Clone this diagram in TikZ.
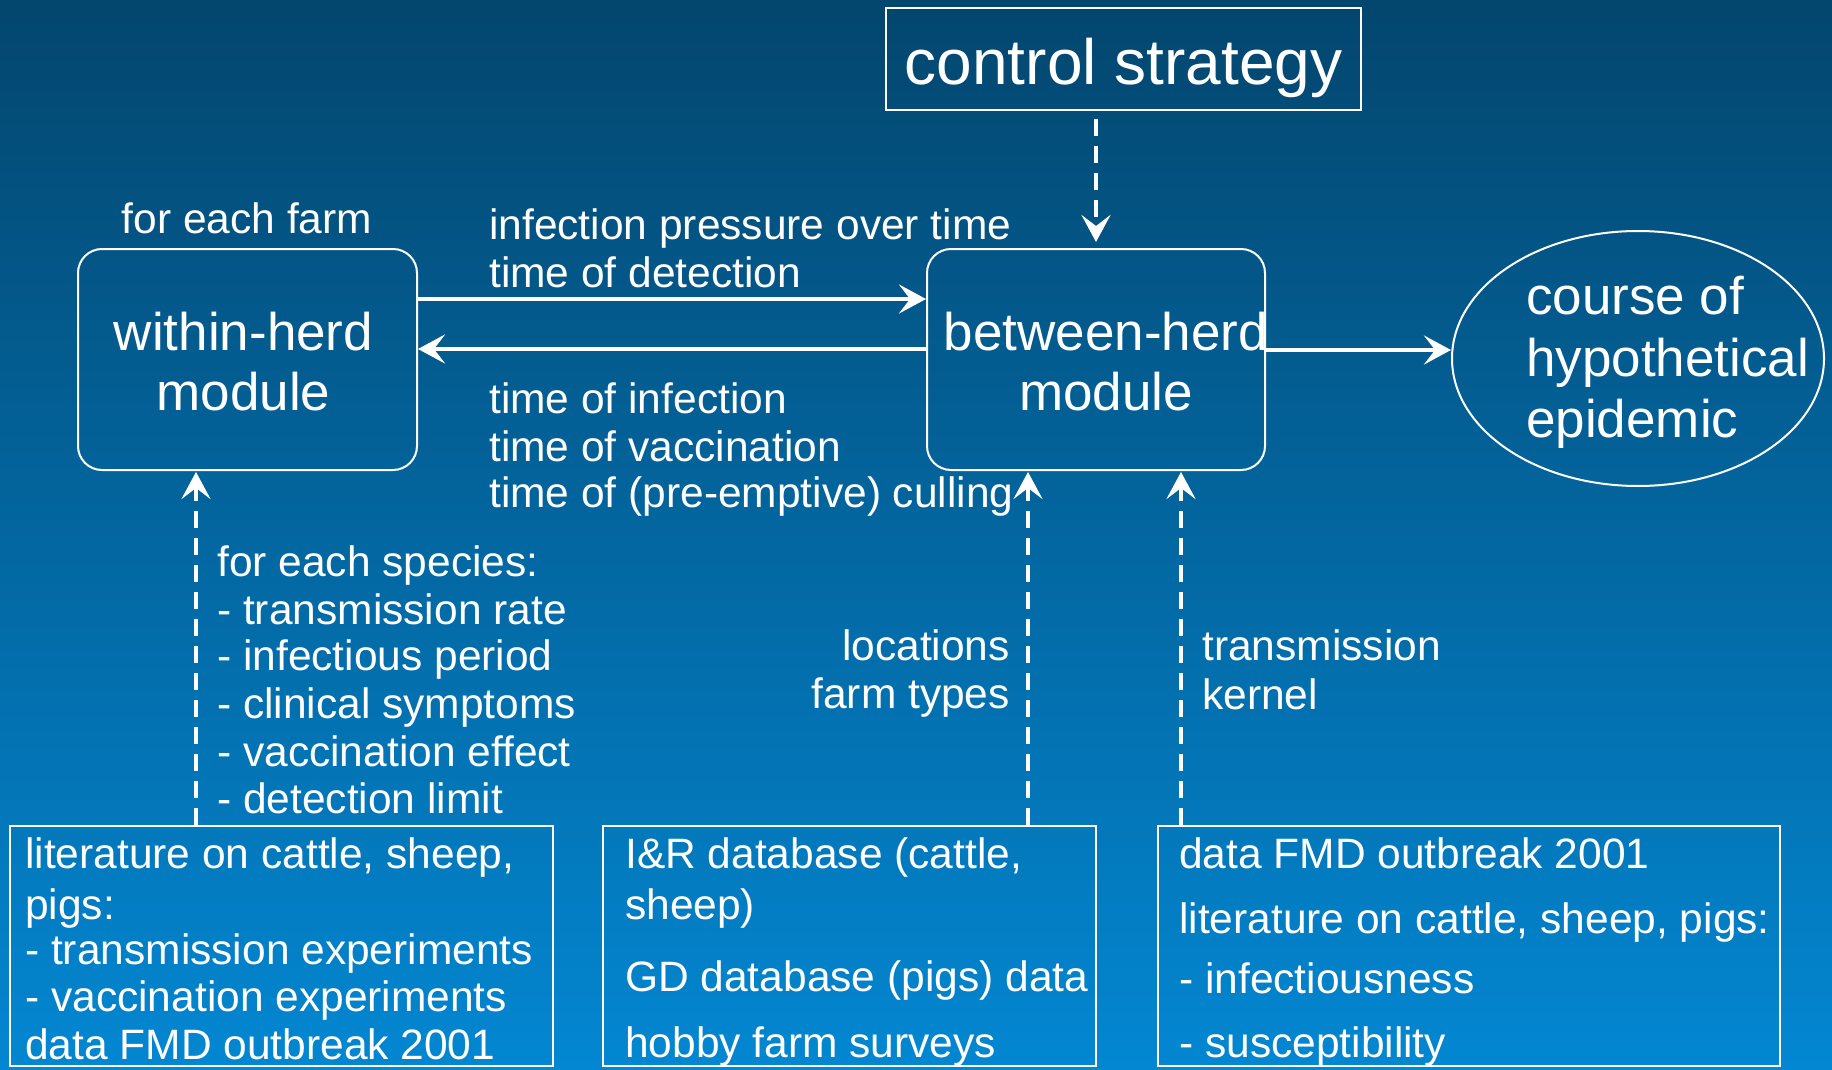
\documentclass[tikz,border=0pt]{standalone}
\usepackage{fontspec}
\setmainfont{Liberation Sans}
\usetikzlibrary{arrows.meta,shapes.geometric}
\definecolor{bgtop}{RGB}{3,70,110}
\definecolor{bgmid}{RGB}{4,110,168}
\definecolor{bgbot}{RGB}{3,135,210}
\tikzset{
  box/.style={draw=white, line width=2pt, inner sep=0pt},
  rbox/.style={box, rounded corners=24pt},
  txt/.style={text=white, inner sep=0pt, anchor=base west, yshift=-2.5pt, font=\fontsize{42.5}{47}\selectfont},
  txtr/.style={txt, anchor=base east},
  big/.style={text=white, inner sep=0pt, anchor=base, yshift=-2.5pt, font=\fontsize{53}{60}\selectfont},
  bigl/.style={big, anchor=base west},
  arr/.style={draw=white, line width=4pt, -{Stealth[length=27pt,width=29pt,inset=11pt]}},
  darr/.style={arr, dash pattern=on 17pt off 10pt}
}
\begin{document}
\begin{tikzpicture}[x=1pt,y=-1pt]
\shade[top color=bgtop, middle color=bgmid, bottom color=bgbot] (0,0) rectangle (1832,1070);
\useasboundingbox (0,0) rectangle (1832,1070);

% main shapes
\node[box, minimum width=475pt, minimum height=102pt] (ctrl) at (1123.5,59) {};
\node[rbox, minimum width=339pt, minimum height=221pt] (within) at (247.5,359.5) {};
\node[rbox, minimum width=338pt, minimum height=221pt] (between) at (1096,359.5) {};
\node[box, ellipse, minimum width=372pt, minimum height=255pt] (course) at (1638,358.5) {};
\node[box, minimum width=543pt, minimum height=240pt] (srcL) at (281.5,946) {};
\node[box, minimum width=493pt, minimum height=240pt] (srcM) at (849.5,946) {};
\node[box, minimum width=622pt, minimum height=240pt] (srcR) at (1469,946) {};

% texts of shapes
\node[big, font=\fontsize{64}{70}\selectfont] (ctrlT) at (1123.5,82) {control strategy};
\node[big] (withinT1) at (243.5,348) {within-herd};
\node[big] (withinT2) at (243.5,408) {module};
\node[big] (betweenT1) at (1106,348) {between-herd};
\node[big] (betweenT2) at (1106,408) {module};
\node[bigl] (courseT1) at (1526,312) {course of};
\node[bigl] (courseT2) at (1526,374) {hypothetical};
\node[bigl] (courseT3) at (1526,435) {epidemic};

% labels
\node[txt] (farm) at (121.5,231) {for each farm};
\node[txt] (ip1) at (489,237) {infection pressure over time};
\node[txt] (ip2) at (489,285) {time of detection};
\node[txt] (ti1) at (489,411) {time of infection};
\node[txt] (ti2) at (489,459) {time of vaccination};
\node[txt] (ti3) at (489,505) {time of (pre-emptive) culling};

\node[txt] (sp1) at (217,574) {for each species:};
\node[txt] (sp2) at (217,622) {- transmission rate};
\node[txt] (sp3) at (217,668) {- infectious period};
\node[txt] (sp4) at (217,716) {- clinical symptoms};
\node[txt] (sp5) at (217,764) {- vaccination effect};
\node[txt] (sp6) at (217,811) {- detection limit};

\node[txtr] (loc1) at (1010,658) {locations};
\node[txtr] (loc2) at (1010,706) {farm types};
\node[txt] (ker1) at (1202,658) {transmission};
\node[txt] (ker2) at (1202,707) {kernel};

% source box texts
\node[txt] (sL1) at (25,866) {literature on cattle, sheep,};
\node[txt] (sL2) at (25,917) {pigs:};
\node[txt] (sL3) at (25,962) {- transmission experiments};
\node[txt] (sL4) at (25,1009) {- vaccination experiments};
\node[txt] (sL5) at (25,1057) {data FMD outbreak 2001};

\node[txt] (sM1) at (625,866) {I\&R database (cattle,};
\node[txt] (sM2) at (625,917) {sheep)};
\node[txt] (sM3) at (625,989) {GD database (pigs) data};
\node[txt] (sM4) at (625,1055) {hobby farm surveys};

\node[txt] (sR1) at (1179,866) {data FMD outbreak 2001};
\node[txt] (sR2) at (1179,931) {literature on cattle, sheep, pigs:};
\node[txt] (sR3) at (1179,991) {- infectiousness};
\node[txt] (sR4) at (1179,1055) {- susceptibility};

% connectors
\coordinate (xL) at (196,0);
\coordinate (xM) at (1028,0);
\coordinate (xR) at (1181,0);
\coordinate (xC) at (1096,0);

\draw[arr] ([yshift=60.5pt]within.east) -- ([yshift=60.5pt]between.west);
\draw[arr] ([yshift=10.5pt]between.west) -- ([yshift=10.5pt]within.east);
\draw[arr] ([yshift=9.5pt]between.east) -- ([yshift=8.5pt]course.west);

\draw[darr] ([yshift=-8pt]ctrl.south -| xC) -- ([yshift=6pt]between.north -| xC);
\draw[darr] (srcL.north -| xL) -- ([yshift=-1pt]within.south -| xL);
\draw[darr] (srcM.north -| xM) -- ([yshift=-1pt]between.south -| xM);
\draw[darr] (srcR.north -| xR) -- ([yshift=-1pt]between.south -| xR);
\end{tikzpicture}
\end{document}
